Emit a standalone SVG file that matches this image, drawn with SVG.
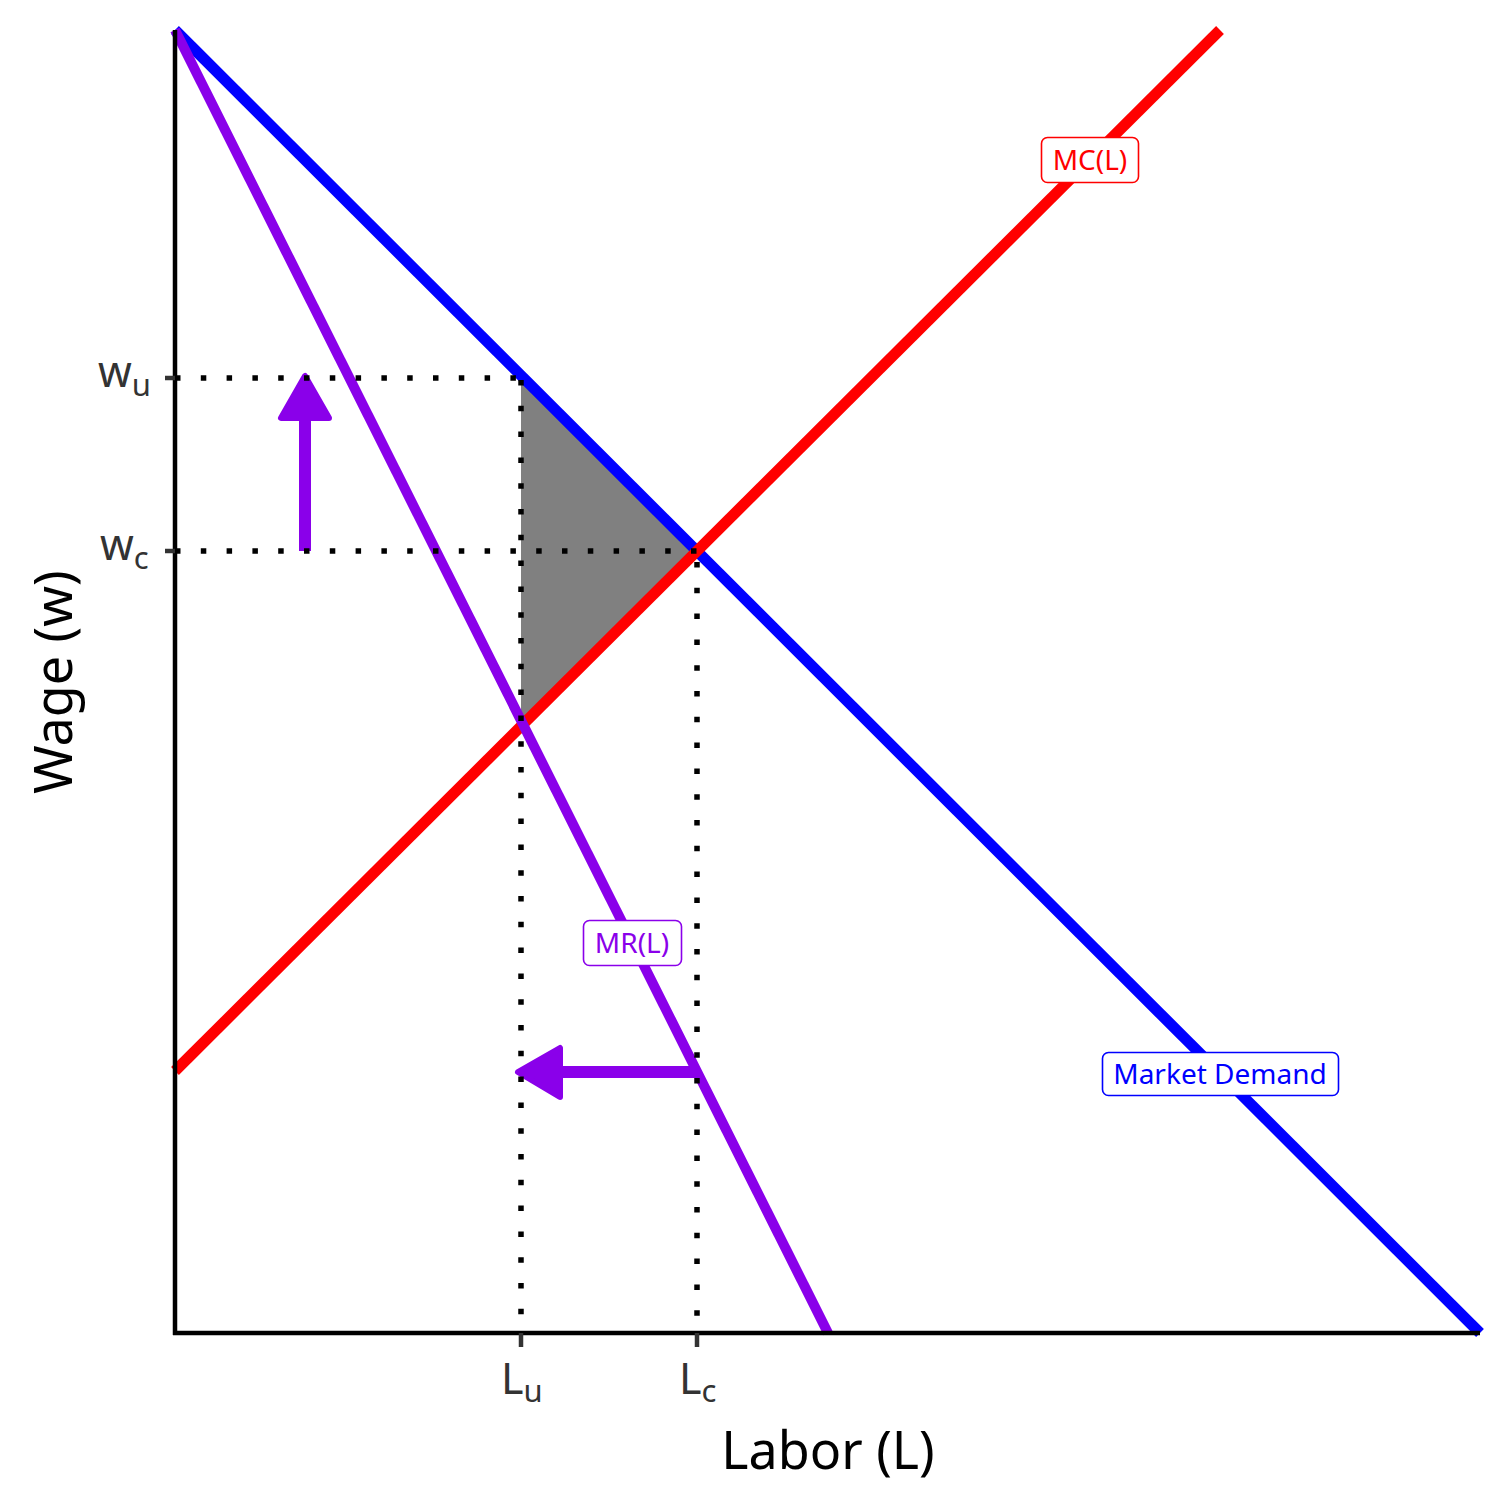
<svg xmlns="http://www.w3.org/2000/svg" width="1512" height="1512" viewBox="0 0 1512 1512">
<style>
.txt{font-family:"Noto Sans","Open Sans","DejaVu Sans",sans-serif}
.tick{fill:#333333;font-size:43px}
.sub{font-size:31px}
.axis{stroke:#000;stroke-width:4.5;fill:none}
.tk{stroke:#333333;stroke-width:4.5}
.dot{stroke:#000;stroke-width:5.5;stroke-dasharray:5.5 20.3;fill:none}
.lbl{font-size:28px;text-anchor:middle}
.box{fill:#fff;stroke-width:1.6}
</style>
<rect width="1512" height="1512" fill="#fff"/>
<g id="surplus">
<polygon points="521,376 697,550 521,722" fill="#808080"/>
</g>
<g id="curves">
<line id="demand" x1="175" y1="30" x2="1480" y2="1333" stroke="#0000ff" stroke-width="11"/>
<line id="mc" x1="175" y1="1071" x2="1220" y2="30" stroke="#ff0000" stroke-width="11"/>
<line id="mr" x1="175" y1="30" x2="828" y2="1333" stroke="#8A00EA" stroke-width="10"/>
</g>
<g id="arrows" fill="#8A00EA" stroke="#8A00EA" stroke-linejoin="round">
<line x1="305" y1="551" x2="305" y2="412" stroke-width="12"/>
<polygon points="305,376 281,418 329,418" stroke-width="6"/>
<line x1="697" y1="1072" x2="556" y2="1072" stroke-width="12"/>
<polygon points="518,1072 560,1048 560,1097" stroke-width="6"/>
</g>
<g id="guides">
<line class="dot" x1="175" y1="378" x2="521" y2="378"/>
<line class="dot" x1="175" y1="551" x2="697" y2="551"/>
<line class="dot" x1="521" y1="380" x2="521" y2="1333"/>
<line class="dot" x1="697" y1="562" x2="697" y2="1333"/>
</g>
<g id="axes">
<line class="axis" x1="175" y1="30" x2="175" y2="1335"/>
<line class="axis" x1="173" y1="1333" x2="1480" y2="1333"/>
<line class="tk" x1="165" y1="378" x2="175" y2="378"/>
<line class="tk" x1="165" y1="551" x2="175" y2="551"/>
<line class="tk" x1="521" y1="1333" x2="521" y2="1347"/>
<line class="tk" x1="697" y1="1333" x2="697" y2="1347"/>
<text class="txt tick" x="98" y="387">w<tspan class="sub" dy="9">u</tspan></text>
<text class="txt tick" x="100" y="560">w<tspan class="sub" dy="9">c</tspan></text>
<text class="txt tick" x="501" y="1394">L<tspan class="sub" dy="8">u</tspan></text>
<text class="txt tick" x="679" y="1394">L<tspan class="sub" dy="8">c</tspan></text>
<text class="txt" x="828" y="1469" font-size="52" text-anchor="middle" fill="#000">Labor (L)</text>
<text class="txt" transform="translate(72,682) rotate(-90)" font-size="52" text-anchor="middle" fill="#000">Wage (w)</text>
</g>
<g id="label-mc">
<rect class="box" x="1041.5" y="137.5" width="97" height="45" rx="6" stroke="#ff0000"/>
<text class="txt lbl" x="1090" y="170" fill="#ff0000">MC(L)</text>
</g>
<g id="label-mr">
<rect class="box" x="583.5" y="920.5" width="98" height="45" rx="6" stroke="#8A00EA"/>
<text class="txt lbl" x="632" y="953" fill="#8A00EA">MR(L)</text>
</g>
<g id="label-demand">
<rect class="box" x="1102.5" y="1052.5" width="236" height="43" rx="6" stroke="#0000ff"/>
<text class="txt lbl" x="1220" y="1084" fill="#0000ff">Market Demand</text>
</g>
</svg>
